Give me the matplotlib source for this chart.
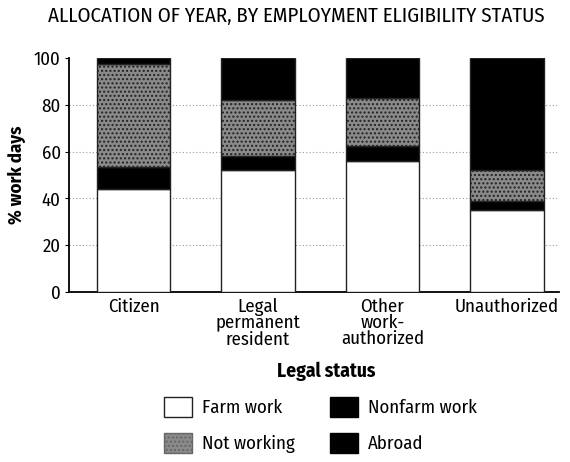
import matplotlib
matplotlib.use("Agg")
import matplotlib.pyplot as plt
from matplotlib.patches import Patch
import numpy as np

categories = ["Citizen", "Legal\npermanent\nresident", "Other\nwork-\nauthorized", "Unauthorized"]
farm_work = [44, 52, 56, 35]
nonfarm_work = [9.5, 6, 6.5, 4]
not_working = [44, 24, 20.5, 13]
abroad = [2.5, 18, 17, 48]

plt.rcParams['font.family'] = ['Fira Sans Condensed', 'DejaVu Sans']
plt.rcParams['hatch.color'] = '#333333'

fig = plt.figure(figsize=(5.7, 4.62), dpi=100)
ax = fig.add_axes([0.121, 0.368, 0.86, 0.506])

x = np.arange(len(categories))
w = 0.59
b1 = np.array(farm_work)
b2 = b1 + np.array(nonfarm_work)
b3 = b2 + np.array(not_working)

ax.bar(x, farm_work, w, color='white', edgecolor='#222222', linewidth=1.0, zorder=3)
ax.bar(x, nonfarm_work, w, bottom=b1, color='black', edgecolor='#222222', linewidth=1.0, zorder=3)
ax.bar(x, not_working, w, bottom=b2, color='#8a8a8a', edgecolor='#222222', hatch='....', linewidth=1.0, zorder=3)
ax.bar(x, abroad, w, bottom=b3, color='black', edgecolor='#222222', linewidth=1.0, zorder=3)

ax.set_ylim(0, 100)
ax.set_xlim(-0.52, 3.42)
ax.set_yticks([0, 20, 40, 60, 80, 100])
ax.tick_params(axis='y', labelsize=13.5, length=3, pad=3)
ax.tick_params(axis='x', labelsize=13.5, length=0, pad=4)
ax.set_xticks(x)
ax.set_xticklabels(categories, linespacing=0.9, va='top')
for yv in [20, 40, 60, 80]:
    ax.axhline(yv, color='#999999', linestyle=(0, (1, 2)), linewidth=0.8, zorder=1)
ax.spines['top'].set_visible(False)
ax.spines['right'].set_visible(False)
ax.spines['left'].set_linewidth(1.3)
ax.spines['bottom'].set_linewidth(1.3)
ax.set_ylabel('% work days', fontsize=13.5, fontweight='bold', labelpad=6)

fig.text(0.52, 0.964, 'ALLOCATION OF YEAR, BY EMPLOYMENT ELIGIBILITY STATUS', ha='center', va='center', fontsize=15)
fig.text(0.573, 0.197, 'Legal status', ha='center', va='center', fontsize=14, fontweight='bold')

handles = [
    Patch(facecolor='white', edgecolor='#222222', label='Farm work'),
    Patch(facecolor='#8a8a8a', edgecolor='#666666', hatch='....', label='Not working'),
    Patch(facecolor='black', edgecolor='black', label='Nonfarm work'),
    Patch(facecolor='black', edgecolor='black', label='Abroad'),
]
fig.legend(handles=handles, ncol=2, loc='center', bbox_to_anchor=(0.562, 0.08), frameon=False,
           fontsize=13.5, handlelength=1.5, handleheight=1.3, columnspacing=1.9, labelspacing=0.85,
           handletextpad=0.5)

fig.savefig('out.png', dpi=100)
